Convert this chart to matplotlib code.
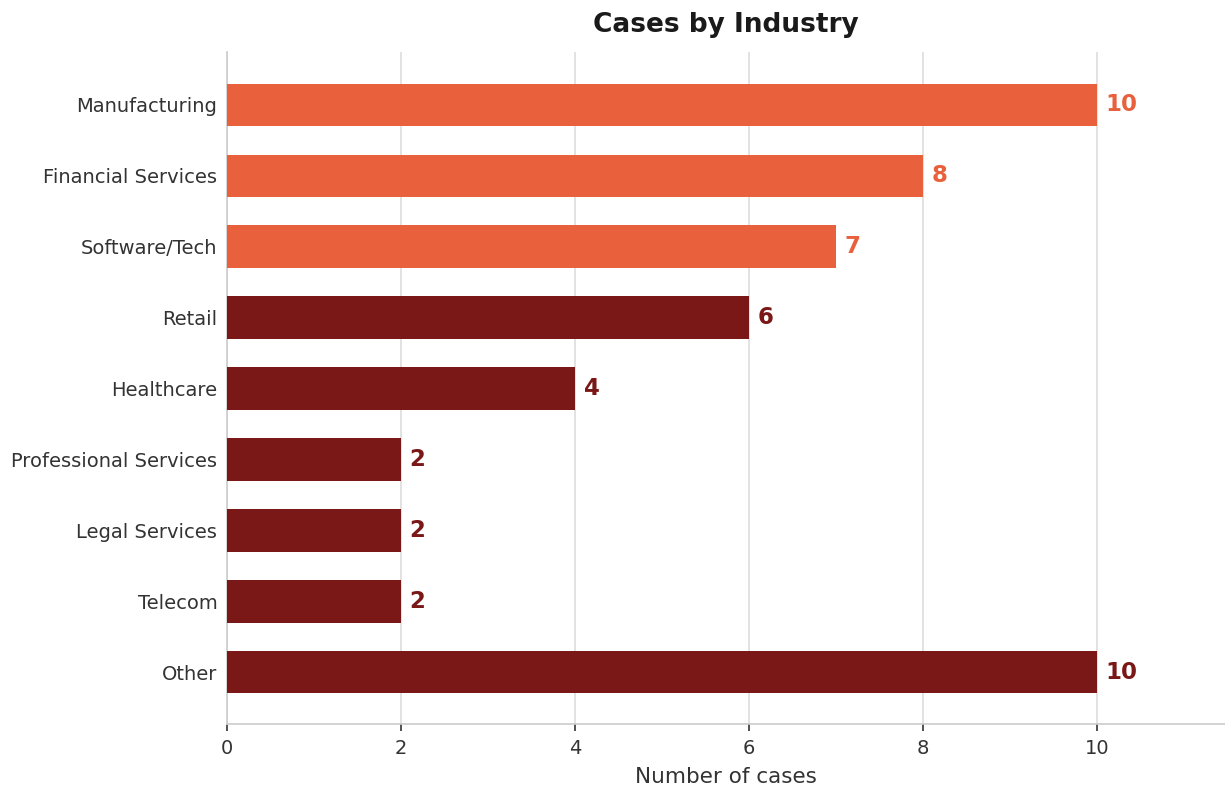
import matplotlib
matplotlib.use("Agg")
import matplotlib.pyplot as plt

plt.rcParams["font.family"] = ["DejaVu Sans"]

industries = ["Manufacturing", "Financial Services", "Software/Tech", "Retail",
              "Healthcare", "Professional Services", "Legal Services", "Telecom", "Other"]
cases = [10, 8, 7, 6, 4, 2, 2, 2, 10]
highlight = [True, True, True, False, False, False, False, False, False]

ORANGE = "#E8603C"
DARK_RED = "#7A1717"
colors = [ORANGE if h else DARK_RED for h in highlight]

fig = plt.figure(figsize=(12.25, 7.89), dpi=100)
ax = fig.add_axes([0.1853, 0.0824, 0.8147, 0.852])

ypos = list(range(len(industries)))
ax.barh(ypos, cases, height=0.6, color=colors, zorder=3)
for y, v, c in zip(ypos, cases, colors):
    ax.text(v + 0.1, y, str(v), va="center", ha="left", fontsize=16.5,
            fontweight="bold", color=c)

ax.set_yticks(ypos)
ax.set_yticklabels(industries)
ax.set_ylim(8.73, -0.75)
ax.set_xlim(0, 11.47)
ax.set_xticks([0, 2, 4, 6, 8, 10])
ax.grid(axis="x", color="#DDDDDD", linewidth=1.2, zorder=0)
ax.tick_params(axis="y", length=0, labelsize=14, colors="#333333", pad=7)
ax.tick_params(axis="x", labelsize=14, colors="#333333", length=5, width=1.2, pad=6)
for s in ["top", "right"]:
    ax.spines[s].set_visible(False)
for s in ["left", "bottom"]:
    ax.spines[s].set_color("#CCCCCC")
    ax.spines[s].set_linewidth(1.2)
ax.set_xlabel("Number of cases", fontsize=15.5, color="#333333", labelpad=6)
ax.set_title("Cases by Industry", fontsize=19, fontweight="bold", color="#1a1a1a", pad=14)

fig.savefig("out.png", dpi=100)
